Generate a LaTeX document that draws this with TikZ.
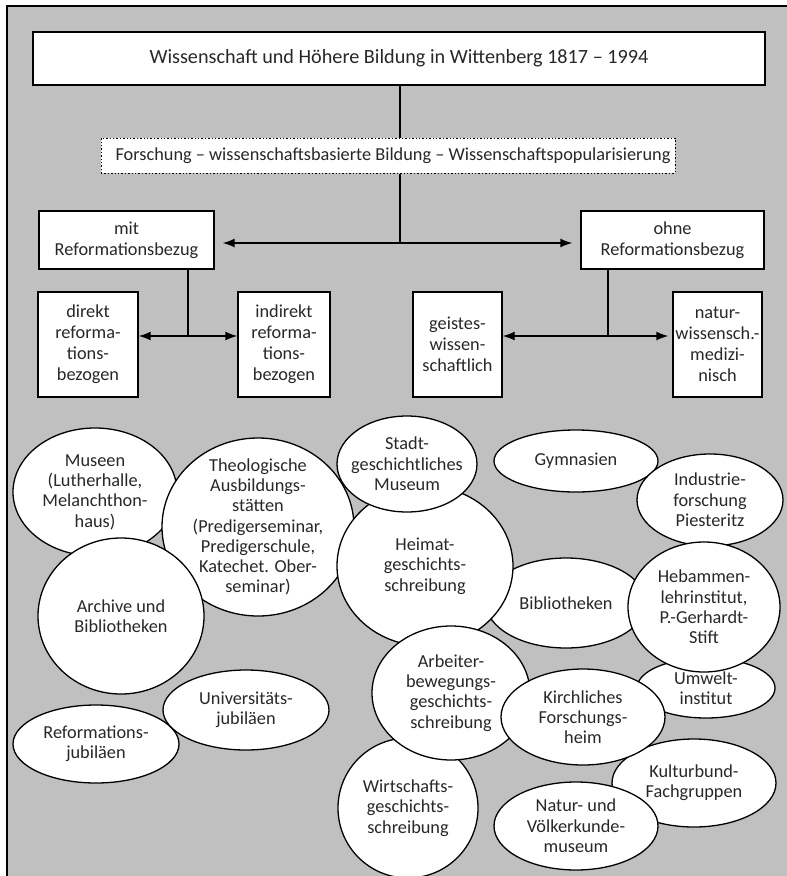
\documentclass[tikz,border=0pt]{standalone}
\usepackage{fontspec}
\setmainfont{Carlito}
\usetikzlibrary{arrows.meta}
\usetikzlibrary{shapes.geometric}
\definecolor{bggray}{RGB}{192,192,192}
\definecolor{ink}{RGB}{40,40,40}

\tikzset{
  box/.style={draw, fill=white, line width=1.4pt, inner sep=0pt, align=center,
    text=ink, font=\fontsize{18.3}{21}\selectfont},
  dotbox/.style={box, dotted, line width=1pt},
  bubble/.style={ellipse, draw, fill=white, line width=1.3pt, inner sep=0pt},
  btext/.style={align=center, inner sep=0pt, text=ink, font=\fontsize{18.3}{20.3}\selectfont},
  link/.style={line width=1.4pt},
  arr/.style={link, -{Latex[length=12pt,width=9pt]}},
}
% name, centre, width, height, text
\newcommand{\bubble}[5]{%
  \node[bubble, minimum width=#3pt, minimum height=#4pt] (#1) at (#2) {};
  \node[btext] (#1-t) at (#1) {#5};
}

\begin{document}
\begin{tikzpicture}[x=1pt,y=-1pt]
\useasboundingbox (0,0) rectangle (787,876);
\clip (0,0) rectangle (787,876);
\fill[bggray] (7,6) rectangle (787,876);
\draw[line width=2pt] (7,876) -- (7,6) -- (787,6);

% top
\node[box, minimum width=732pt, minimum height=53pt, font=\fontsize{20.2}{23}\selectfont]
  (title) at (399,58.5) {Wissenschaft und Höhere Bildung in Wittenberg 1817 – 1994};
\node[dotbox, minimum width=574pt, minimum height=35pt] (dots) at (388,155.5)
  {\hspace*{10pt}Forschung – wissenschaftsbasierte Bildung – Wissenschaftspopularisierung};
\coordinate (top) at (400,243);

\node[box, minimum width=175pt, minimum height=58pt] (mit) at (126.5,240) {mit\\Reformationsbezug};
\node[box, minimum width=183pt, minimum height=58pt] (ohne) at (672.5,240) {ohne\\Reformationsbezug};

\node[box, minimum width=100pt, minimum height=105pt] (direkt) at (88,344.5)
  {direkt\\reforma-\\tions-\\bezogen};
\node[box, minimum width=92pt, minimum height=105pt] (indirekt) at (284,344.5)
  {indirekt\\reforma-\\tions-\\bezogen};
\node[box, minimum width=89pt, minimum height=105pt] (geist) at (457.5,344.5)
  {geistes-\\wissen-\\schaftlich};
\node[box, minimum width=89pt, minimum height=105pt] (natur) at (717.5,344.5)
  {natur-\\wissensch.-\\medizi-\\nisch};
\coordinate (mj) at (188,336);
\coordinate (oj) at (608,336);

\draw[link] (title.south -| top) -- (dots.north -| top);
\draw[link] (dots.south -| top) -- (top);
\draw[arr, shorten >=8pt] (top) -- (mit.east |- top);
\draw[arr, shorten >=8pt] (top) -- (ohne.west |- top);

\draw[link] (mit.south -| mj) -- (mj);
\draw[arr] (mj) -- (direkt.east |- mj);
\draw[arr] (mj) -- (indirekt.west |- mj);
\draw[link] (ohne.south -| oj) -- (oj);
\draw[arr] (oj) -- (geist.east |- oj);
\draw[arr, shorten >=4pt] (oj) -- (natur.west |- oj);

% bubbles
\bubble{museen}{95,492}{164}{128}{Museen\\(Lutherhalle,\\Melanchthon-\\haus)}
\bubble{theol}{258,527}{192}{178}{Theologische\\Ausbildungs-\\stätten\\(Predigerseminar,\\Predigerschule,\\Katechet. Ober-\\seminar)}
\bubble{archiv}{121,616}{166}{156}{Archive und\\Bibliotheken}
\bubble{gymn}{576,461}{164}{62}{Gymnasien}
\bubble{indus}{710,500}{146}{92}{Industrie-\\forschung\\Piesteritz}
\bubble{bibl}{566,603}{160}{90}{Bibliotheken}
\bubble{heimat}{425,566}{176}{160}{Heimat-\\geschichts-\\schreibung}
\bubble{stadt}{407,464}{140}{96}{Stadt-\\geschichtliches\\Museum}
\bubble{wirt}{408,808}{140}{140}{Wirtschafts-\\geschichts-\\schreibung}
\bubble{arbeit}{451,693}{158}{134}{Arbeiter-\\bewegungs-\\geschichts-\\schreibung}
\bubble{umwelt}{706,688}{138}{60}{Umwelt-\\institut}
\bubble{hebam}{704,607}{152}{130}{Hebammen-\\lehrinstitut,\\P.-Gerhardt-\\Stift}
\bubble{kultur}{694,783}{164}{88}{Kulturbund-\\Fachgruppen}
\bubble{kirch}{583,717}{164}{96}{Kirchliches\\Forschungs-\\heim}
\bubble{natmus}{576,826}{164}{88}{Natur- und\\Völkerkunde-\\museum}
\bubble{reform}{96,744}{166}{78}{Reformations-\\jubiläen}
\bubble{univ}{246,710}{166}{80}{Universitäts-\\jubiläen}
\end{tikzpicture}
\end{document}
